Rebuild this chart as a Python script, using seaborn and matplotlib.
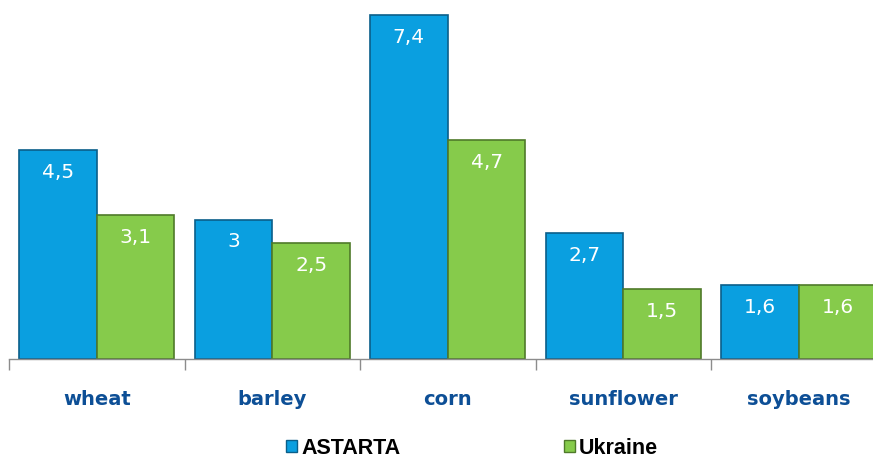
import seaborn as sns
import matplotlib.pyplot as plt
import pandas as pd
import numpy as np
from matplotlib.patches import Patch

crops = ["wheat", "barley", "corn", "sunflower", "soybeans"]
astarta = [4.5, 3.0, 7.4, 2.7, 1.6]
ukraine = [3.1, 2.5, 4.7, 1.5, 1.6]
series = ["ASTARTA", "Ukraine"]

palette = {"ASTARTA": "#0a9fe0", "Ukraine": "#86cb4b"}
edges = {"ASTARTA": "#0a5f8a", "Ukraine": "#4f7a2a"}

df = pd.DataFrame({
    "crop": crops * 2,
    "yield": astarta + ukraine,
    "source": ["ASTARTA"] * len(crops) + ["Ukraine"] * len(crops),
})

sns.set_theme(style="white")

figure = plt.figure(figsize=(8.73, 4.59), dpi=100)
axis = figure.add_axes([9 / 873, 100 / 459, 864 / 873, 359 / 459])

sns.barplot(data=df, x="crop", y="yield", hue="source", hue_order=series,
            palette=palette, width=0.885, gap=0, saturation=1, legend=False, ax=axis)

for container, name in zip(axis.containers, series):
    for bar in container:
        bar.set_edgecolor(edges[name])
        bar.set_linewidth(1.2)
    vals = [bar.get_height() for bar in container]
    axis.bar_label(container, labels=[f"{v:g}".replace(".", ",") for v in vals],
                   padding=-23, color="white", fontsize=14.5, family="DejaVu Sans")

axis.set_xlabel("")
axis.set_ylabel("")
axis.set_yticks([])

for side in ["top", "right", "left"]:
    axis.spines[side].set_visible(False)
axis.spines["bottom"].set_color("#8c8c8c")
axis.spines["bottom"].set_linewidth(1)

axis.set_xticks(np.arange(len(crops)))
axis.set_xticklabels(crops, color="#0d4f96", fontweight="bold", fontsize=14, family="DejaVu Sans")
axis.tick_params(axis="x", which="major", length=0, pad=22)
axis.set_xticks(np.arange(len(crops) + 1) - 0.5, minor=True)
axis.tick_params(axis="x", which="minor", length=8, width=1, color="#8c8c8c", bottom=True, direction="out")

# limits last, set_xticks would widen them
axis.set_xlim(-0.5, -0.5 + 864 / 175.5)
axis.set_ylim(0, 359 / 46.5)

handles = [Patch(facecolor=palette[s], edgecolor=edges[s]) for s in series]
figure.legend(handles, series, loc="center", bbox_to_anchor=(472 / 873, 1 - 448 / 459), ncol=2,
              frameon=False, columnspacing=7.6, handlelength=0.5, handleheight=0.5,
              handletextpad=0.2, labelcolor="black",
              prop={"family": "Liberation Sans", "size": 15.5, "weight": "bold"})

figure.savefig("out.png", dpi=100)
